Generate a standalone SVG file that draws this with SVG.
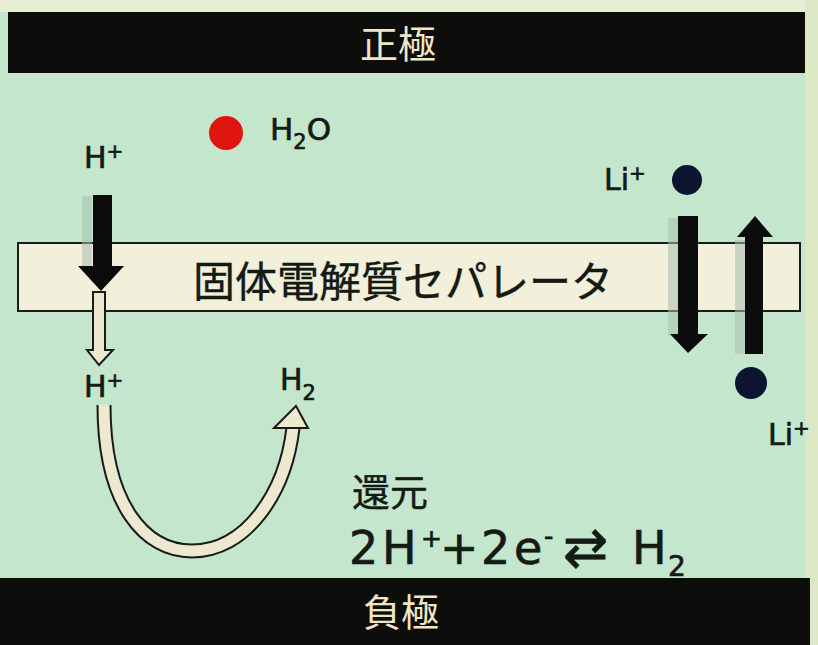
<svg xmlns="http://www.w3.org/2000/svg" width="818" height="645" viewBox="0 0 818 645">
<defs>
<style>
.lat{font-family:"DejaVu Sans","Noto Sans",sans-serif;fill:#141a14;stroke:#141a14;stroke-width:0.7}
.jp{font-family:"Noto Sans CJK JP","Noto Sans",sans-serif;fill:#141a14;stroke:#141a14;stroke-width:0.4}
.bar{fill:#0d0d0b}
.bartxt{font-family:"Noto Sans CJK JP",serif;fill:#efe6c4;font-size:38px;text-anchor:middle}
.blk{fill:#0b0b0b}
.shadow{fill:#a8bfae;opacity:0.55}
.hollow{fill:#ece9cf;stroke:#1a1a1a;stroke-width:2}
</style>
</defs>
<rect x="0" y="0" width="818" height="645" fill="#c4e6cc"/>
<rect x="0" y="0" width="818" height="12" fill="#e6efd4"/>
<rect x="805" y="0" width="13" height="645" fill="#dde8c4"/>
<g id="cathode">
<rect class="bar" x="8" y="12" width="797" height="61"/>
<text class="bartxt" x="398" y="58">正極</text>
</g>
<g id="anode">
<rect class="bar" x="0" y="578" width="810" height="67"/>
<text class="bartxt" x="401" y="626">負極</text>
</g>
<g id="separator">
<rect x="18" y="243" width="782" height="68" fill="#f2efda" stroke="#1a1a1a" stroke-width="2"/>
<text class="jp" x="403" y="297" font-size="42" text-anchor="middle">固体電解質セパレータ</text>
</g>
<g id="h2o">
<circle cx="226" cy="133" r="17" fill="#e0140e"/>
<text class="lat" x="270" y="140" font-size="31">H<tspan font-size="21" dy="9">2</tspan><tspan dy="-9">O</tspan></text>
</g>
<g id="hplus-top"><text class="lat" x="84" y="168" font-size="30">H<tspan font-size="20" dy="-10">+</tspan></text></g>
<g id="hplus-bottom"><text class="lat" x="84" y="397" font-size="30">H<tspan font-size="20" dy="-10">+</tspan></text></g>
<g id="h2"><text class="lat" x="280" y="390" font-size="30">H<tspan font-size="21" dy="10">2</tspan></text></g>
<g id="li-top">
<text class="lat" x="604" y="190" font-size="30">Li<tspan font-size="20" dy="-10">+</tspan></text>
<circle cx="687" cy="180" r="15" fill="#0c1530"/>
</g>
<g id="li-bottom">
<circle cx="751" cy="383" r="16" fill="#0c1530"/>
<text class="lat" x="768" y="445" font-size="30">Li<tspan font-size="20" dy="-10">+</tspan></text>
</g>
<g id="reaction">
<text class="jp" x="352" y="506" font-size="38">還元</text>
<text class="lat" font-size="46" y="564"><tspan x="349">2</tspan><tspan x="382">H</tspan><tspan x="421" y="547" font-size="25">+</tspan><tspan x="440" y="564">+</tspan><tspan x="481">2</tspan><tspan x="514">e</tspan><tspan x="544" y="545" font-size="26">-</tspan><tspan x="563" y="566" font-size="54">⇄</tspan><tspan x="632" y="564">H</tspan><tspan x="668" y="576" font-size="28">2</tspan></text>
</g>
<g id="connectors">
<rect class="shadow" x="82" y="196" width="10" height="70"/>
<polygon class="blk" points="93,195 112,195 112,266 124,266 101,291 78,266 93,266"/>
<polygon class="hollow" points="93,292 105,292 105,350 113,350 99,365 87,350 93,350"/>
<path d="M104,405 C104,505 145,551 192,551 C245,551 285,495 293,428" fill="none" stroke="#1a1a1a" stroke-width="15"/>
<path d="M104,405 C104,505 145,551 192,551 C245,551 285,495 293,428" fill="none" stroke="#ece9cf" stroke-width="11"/>
<polygon class="hollow" points="274,428 296,406 308,428"/>
<rect class="shadow" x="668" y="218" width="10" height="118"/>
<polygon class="blk" points="678,216 698,216 698,334 708,334 688,353 670,334 678,334"/>
<rect class="shadow" x="735" y="240" width="10" height="114"/>
<polygon class="blk" points="745,354 763,354 763,237 773,237 755,216 737,237 745,237"/>
</g>
</svg>
